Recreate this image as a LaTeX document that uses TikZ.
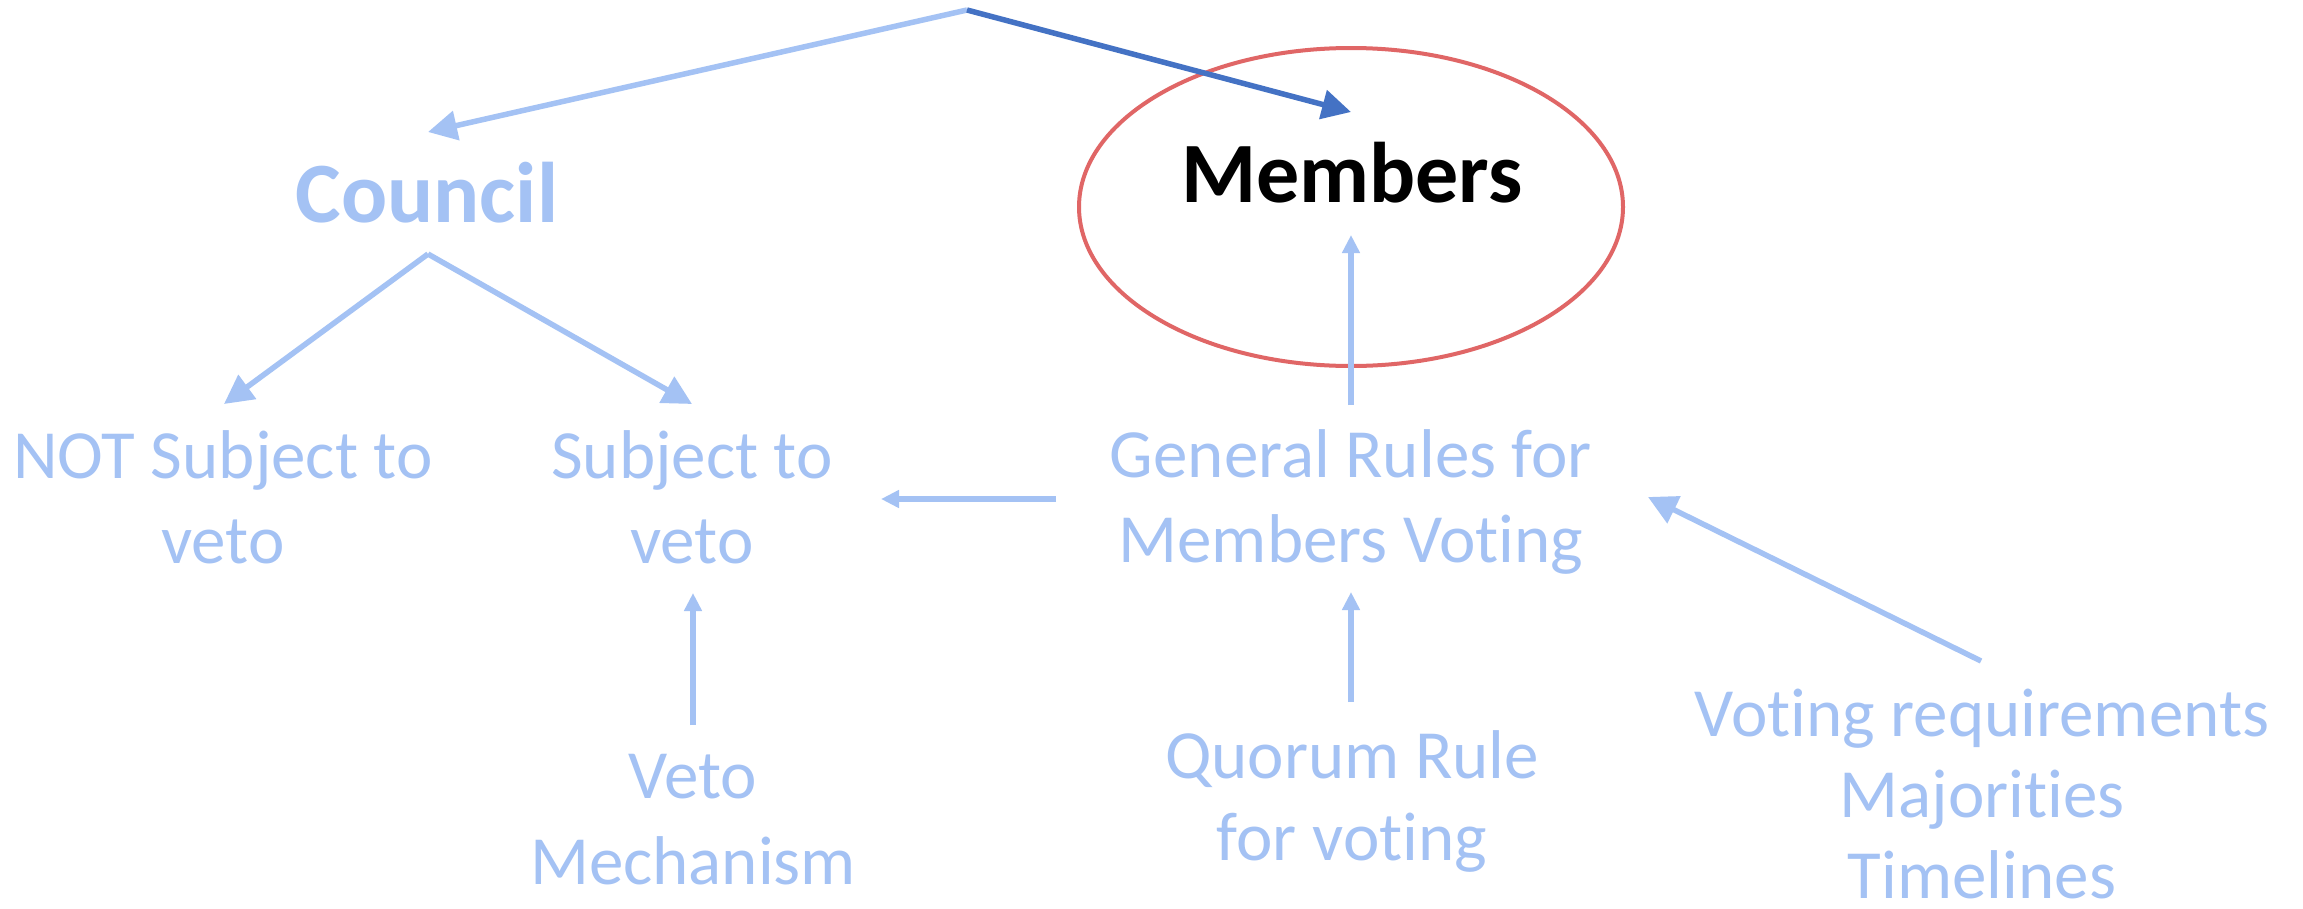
\documentclass[tikz,border=0pt]{standalone}
\usepackage{fontspec}
\setmainfont{Carlito}[Ligatures=CommonOff]
\usetikzlibrary{arrows.meta,shapes.geometric}
\definecolor{lblue}{HTML}{A4C2F4}
\definecolor{dblue}{HTML}{4472C4}
\definecolor{ored}{HTML}{E06666}
\begin{document}
\begin{tikzpicture}[x=1pt,y=-1pt,
  lbl/.style={inner sep=0pt, anchor=base, align=center, text=lblue,
    font=\fontsize{69}{85}\selectfont},
  head/.style={inner sep=0pt, anchor=base, font=\fontsize{86}{100}\selectfont\bfseries},
  conn/.style={draw=lblue, line width=5.5pt},
  bigarrow/.style={conn, -{Triangle[length=29pt,width=29pt]}},
  smallarrow/.style={conn, -{Triangle[length=18pt,width=17pt]}},
]
\useasboundingbox (0,0) rectangle (2303,908);
\fill[white] (0,0) rectangle (2303,908);

% ellipse
\node[draw=ored, line width=4pt, ellipse, minimum width=544pt, minimum height=318pt, inner sep=0pt] (oval) at (1351,207) {};

% headings
\node[head, text=lblue] (council) at (427,222) {Council};
\node[head, text=black] (members) at (1352,202) {Members};

% labels (anchor base = baseline of last line)
\node[lbl] (notsub) at (223,563) {NOT Subject to\\veto};
\node[lbl] (sub) at (692,563) {Subject to\\veto};
\node[lbl] (gen) at (1351,562) {General Rules for\\Members Voting};
\node[lbl, font=\fontsize{69}{86}\selectfont] (veto) at (693,884) {Veto\\Mechanism};
\node[lbl, font=\fontsize{69}{82}\selectfont] (quorum) at (1352,860) {Quorum Rule\\for voting};
\node[lbl, font=\fontsize{69}{81}\selectfont] (voting) at (1982,898) {Voting requirements\\Majorities\\Timelines};

% coordinates
\coordinate (top) at (967,10);
\coordinate (councilin) at (428,132);
\coordinate (membersin) at (1351,112);
\coordinate (capex) at (428,254);
\coordinate (notsubin) at (224,404);
\coordinate (subin) at (692,404);
\coordinate (genup) at (1351,405);
\coordinate (membersbot) at (1351,235);
\coordinate (genleft) at (1056,499);
\coordinate (subright) at (881,499);
\coordinate (vetotop) at (693,725);
\coordinate (subbot) at (693,593);
\coordinate (quorumtop) at (1351,702);
\coordinate (genbot) at (1351,592);
\coordinate (votingtop) at (1981,661);
\coordinate (genright) at (1648,497);

% connectors
\draw[bigarrow] (top) -- (councilin);
\draw[conn, draw=dblue, -{Triangle[length=29pt,width=29pt]}] (top) -- (membersin);
\draw[bigarrow] (capex) -- (notsubin);
\draw[bigarrow] (capex) -- (subin);
\draw[smallarrow] (genup) -- (membersbot);
\draw[smallarrow] (genleft) -- (subright);
\draw[smallarrow] (vetotop) -- (subbot);
\draw[smallarrow] (quorumtop) -- (genbot);
\draw[bigarrow] (votingtop) -- (genright);
\end{tikzpicture}
\end{document}
